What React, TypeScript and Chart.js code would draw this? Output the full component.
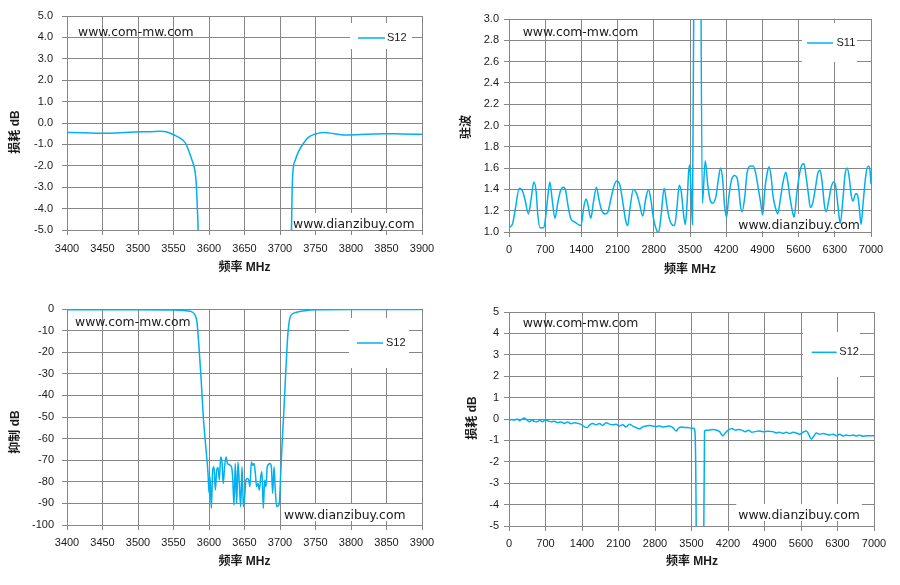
import { useEffect, useRef } from "react"
import { Chart, registerables, type ChartConfiguration, type Plugin } from "chart.js"

Chart.register(...registerables)

// S12 passband detail, 3400-3900 MHz (dB)
const passFreq = [
  3400, 3423, 3447, 3470, 3494, 3517, 3531, 3541, 3550, 3560, 3567, 3571, 3576, 3580, 3582, 3583.5, 3585,
  3590, 3650, 3710, 3716, 3717, 3718, 3721.6, 3726, 3733, 3740, 3750, 3762, 3776, 3795, 3822, 3846, 3869, 3900,
]
const passLoss = [
  -0.44, -0.45, -0.48, -0.47, -0.42, -0.41, -0.39, -0.42, -0.55, -0.72, -0.95, -1.26, -1.73, -2.2, -2.8, -3.9, -5.5,
  -20, -80, -20, -5.3, -3.3, -2.35, -1.73, -1.34, -0.95, -0.67, -0.51, -0.44, -0.5, -0.56, -0.53, -0.5, -0.51, -0.53,
]

// S11 VSWR, 0-7000 MHz
const vswrFreq = [
  0, 71, 117, 200, 265, 311, 376, 428, 480, 525, 557, 600, 674, 713, 752, 790, 836, 888, 946, 998, 1050, 1095,
  1140, 1192, 1283, 1390, 1452, 1490, 1529, 1581, 1633, 1691, 1737, 1788, 1853, 1905, 1970, 2035, 2087, 2145,
  2210, 2255, 2294, 2339, 2404, 2469, 2521, 2586, 2644, 2696, 2741, 2793, 2838, 2890, 2942, 3000, 3052, 3097,
  3149, 3201, 3246, 3292, 3331, 3370, 3409, 3441, 3473, 3493, 3519, 3548, 3583, 3650, 3706, 3740, 3795, 3844,
  3889, 3935, 4000, 4050, 4090, 4130, 4168, 4207, 4246, 4298, 4363, 4409, 4442, 4475, 4507, 4559, 4605, 4670,
  4722, 4767, 4820, 4865, 4904, 4949, 4995, 5027, 5066, 5105, 5157, 5196, 5248, 5300, 5352, 5391, 5437, 5482,
  5515, 5560, 5612, 5664, 5703, 5742, 5794, 5827, 5872, 5924, 5976, 6015, 6054, 6100, 6132, 6184, 6230, 6275,
  6314, 6360, 6405, 6457, 6496, 6535, 6574, 6620, 6652, 6704, 6737, 6769, 6808, 6847, 6899, 6945, 6975, 7000,
]
const vswrValue = [
  1.04, 1.08, 1.2, 1.41, 1.38, 1.3, 1.17, 1.31, 1.47, 1.38, 1.16, 1.04, 1.04, 1.16, 1.34, 1.47, 1.3, 1.13, 1.28,
  1.39, 1.42, 1.39, 1.25, 1.13, 1.09, 1.06, 1.25, 1.31, 1.25, 1.13, 1.28, 1.42, 1.31, 1.21, 1.17, 1.18, 1.31,
  1.44, 1.48, 1.44, 1.25, 1.11, 1.06, 1.22, 1.4, 1.36, 1.27, 1.15, 1.31, 1.4, 1.31, 1.13, 1.04, 0.99, 1.16, 1.41,
  1.25, 1.13, 1.07, 1.06, 1.22, 1.44, 1.38, 1.19, 1.07, 1.25, 1.56, 1.63, 1.41, 1.07, 4.0, 15, 4.0, 1.27, 1.67,
  1.44, 1.3, 1.27, 1.33, 1.5, 1.6, 1.5, 1.25, 1.14, 1.31, 1.48, 1.53, 1.51, 1.41, 1.25, 1.19, 1.33, 1.56, 1.62,
  1.62, 1.56, 1.41, 1.28, 1.16, 1.41, 1.56, 1.61, 1.53, 1.34, 1.22, 1.17, 1.31, 1.47, 1.56, 1.47, 1.31, 1.19,
  1.14, 1.34, 1.53, 1.63, 1.64, 1.53, 1.34, 1.23, 1.27, 1.41, 1.56, 1.58, 1.47, 1.25, 1.19, 1.3, 1.42, 1.47,
  1.44, 1.25, 1.08, 1.31, 1.53, 1.6, 1.53, 1.34, 1.29, 1.36, 1.35, 1.25, 1.07, 1.27, 1.53, 1.62, 1.6, 1.45,
]

// S12 rejection, 3400-3900 MHz (dB)
const rejectFreq = [
  3400, 3500, 3560, 3570, 3575, 3580, 3583, 3586, 3589, 3592, 3595, 3598.6, 3600, 3601.4, 3603.3, 3605.2, 3607,
  3609, 3610.8, 3612.7, 3614.6, 3616.4, 3618.3, 3620, 3622, 3624, 3626, 3631.5, 3633.3, 3635.2, 3637, 3639,
  3640.8, 3642.7, 3644.6, 3646.5, 3648.4, 3650, 3652, 3654, 3655.9, 3657.7, 3659.6, 3661.5, 3663.4, 3665.3, 3667,
  3669, 3671, 3672.8, 3674.6, 3676.5, 3678.4, 3680.3, 3682, 3686, 3687.8, 3689.7, 3691.6, 3693.4, 3695.3, 3697,
  3699, 3701, 3703, 3705, 3708, 3711, 3714, 3718, 3725, 3735, 3750, 3800, 3900,
]
const rejectValue = [
  -0.4, -0.4, -0.6, -0.9, -1.2, -2.6, -6, -18, -33, -50, -62, -76, -85, -77.7, -92.3, -74.6, -73, -83.8, -74.6,
  -73.4, -79.2, -68.5, -70.8, -80.8, -73, -68.5, -71.5, -73, -77.7, -90.8, -71.5, -90, -70.8, -80.8, -91.5, -73,
  -91.5, -87.7, -79.2, -78.5, -79.2, -82.3, -70.8, -72.3, -71.5, -76.2, -82.3, -80.8, -83.8, -77.7, -75.4, -92.3,
  -79.2, -82.3, -73, -71.5, -73, -85.4, -73, -83.8, -91.5, -91.2, -90, -76.2, -62, -50, -30, -12, -4, -2.2, -1.4,
  -0.8, -0.4, -0.25, -0.25,
]

// S12 wideband loss, 0-7000 MHz (dB)
const wideFreq = [
  0, 51, 102, 154, 198, 243, 294, 346, 390, 435, 486, 538, 589, 640, 691, 742, 806, 870, 934, 998, 1062, 1126,
  1190, 1254, 1331, 1395, 1446, 1498, 1549, 1606, 1670, 1734, 1798, 1862, 1926, 1990, 2054, 2118, 2182, 2246,
  2310, 2374, 2438, 2502, 2566, 2630, 2694, 2758, 2822, 2886, 2950, 3014, 3078, 3142, 3206, 3251, 3302, 3366,
  3430, 3494, 3540, 3565, 3592, 3660, 3733, 3750, 3782, 3846, 3910, 3974, 4038, 4102, 4147, 4211, 4275, 4339,
  4403, 4467, 4531, 4595, 4659, 4723, 4787, 4870, 4966, 5062, 5126, 5190, 5254, 5318, 5382, 5446, 5510, 5574,
  5638, 5702, 5747, 5798, 5850, 5894, 5958, 6022, 6086, 6150, 6214, 6278, 6342, 6406, 6470, 6534, 6598, 6662,
  6726, 6790, 6854, 6918, 7000,
]
const wideLoss = [
  -0.08, -0.02, -0.05, 0, -0.08, -0.02, 0.05, -0.05, -0.13, -0.05, -0.11, -0.13, -0.06, -0.13, -0.05, -0.08,
  -0.13, -0.11, -0.17, -0.14, -0.21, -0.14, -0.22, -0.17, -0.21, -0.27, -0.37, -0.4, -0.27, -0.21, -0.27, -0.21,
  -0.3, -0.17, -0.24, -0.27, -0.24, -0.33, -0.27, -0.37, -0.24, -0.33, -0.4, -0.46, -0.37, -0.33, -0.3, -0.33,
  -0.35, -0.33, -0.37, -0.35, -0.33, -0.4, -0.56, -0.43, -0.37, -0.4, -0.4, -0.43, -0.43, -0.56, -6, -60, -6,
  -0.56, -0.52, -0.51, -0.49, -0.51, -0.59, -0.78, -0.65, -0.51, -0.44, -0.52, -0.49, -0.52, -0.59, -0.52, -0.62,
  -0.59, -0.56, -0.59, -0.57, -0.59, -0.65, -0.62, -0.67, -0.62, -0.68, -0.62, -0.65, -0.71, -0.62, -0.56, -0.71,
  -0.95, -0.78, -0.65, -0.71, -0.68, -0.71, -0.75, -0.71, -0.78, -0.71, -0.79, -0.75, -0.78, -0.75, -0.79, -0.76,
  -0.81, -0.78, -0.78, -0.78,
]

// axis ticks
const narrowTicks = [3400, 3450, 3500, 3550, 3600, 3650, 3700, 3750, 3800, 3850, 3900]
const wideTicks = [0, 700, 1400, 2100, 2800, 3500, 4200, 4900, 5600, 6300, 7000]
const lossTicks = [-5, -4, -3, -2, -1, 0, 1, 2, 3, 4, 5]
const vswrTicks = [1.0, 1.2, 1.4, 1.6, 1.8, 2.0, 2.2, 2.4, 2.6, 2.8, 3.0]
const rejectTicks = [-100, -90, -80, -70, -60, -50, -40, -30, -20, -10, 0]

const LINE = "#00b0f0"
const GRID = "#868686"
const TEXT = "#1a1a1a"
const FONT = "'Liberation Sans', 'Noto Sans CJK SC', sans-serif"
const MARK_FONT = "12.4px 'DejaVu Sans', sans-serif"
const TOP_MARK = "www.com-mw.com"
const BOTTOM_MARK = "www.dianzibuy.com"

interface Frame {
  top: number
  right: number
  yWidth: number
  xHeight: number
  yPad: number
  xPad: number
}

interface Legend {
  x: number
  y: number
  w: number
  h: number
  lineX0: number
  lineX1: number
  lineY: number
  textX: number
}

interface PanelProps {
  freqs: number[]
  values: number[]
  xTicks: number[]
  yTicks: number[]
  decimals: number
  series: string
  yTitle: string
  left: number
  top: number
  width: number
  height: number
  frame: Frame
  legend: Legend
  marks: { topX: number; topY: number; bottomX: number; bottomY: number }
  titles: { xX: number; xY: number; yX: number; yY: number }
}

function Panel({
  freqs,
  values,
  xTicks,
  yTicks,
  decimals,
  series,
  yTitle,
  left,
  top,
  width,
  height,
  frame,
  legend,
  marks,
  titles,
}: PanelProps) {
  const canvasRef = useRef<HTMLCanvasElement>(null)

  useEffect(() => {
    if (!canvasRef.current) return

    // legend box, watermarks and axis titles sit on fixed spots like the Excel sheet
    const overlay: Plugin<"line"> = {
      id: "overlay",
      beforeDatasetsDraw(chart) {
        const ctx = chart.ctx
        ctx.save()
        ctx.fillStyle = "#ffffff"
        ctx.fillRect(legend.x, legend.y, legend.w, legend.h)
        ctx.font = MARK_FONT
        const w = ctx.measureText(BOTTOM_MARK).width
        ctx.fillRect(marks.bottomX - 2, marks.bottomY - 12, w + 4, 17)
        ctx.restore()
      },
      afterDatasetsDraw(chart) {
        const ctx = chart.ctx
        ctx.save()
        ctx.strokeStyle = LINE
        ctx.lineWidth = 1.5
        ctx.beginPath()
        ctx.moveTo(legend.lineX0, legend.lineY)
        ctx.lineTo(legend.lineX1, legend.lineY)
        ctx.stroke()

        ctx.fillStyle = TEXT
        ctx.textBaseline = "middle"
        ctx.textAlign = "left"
        ctx.font = `11px ${FONT}`
        ctx.fillText(series, legend.textX, legend.lineY)

        ctx.font = MARK_FONT
        ctx.fillText(TOP_MARK, marks.topX, marks.topY)
        ctx.fillText(BOTTOM_MARK, marks.bottomX, marks.bottomY)

        ctx.font = `bold 12px ${FONT}`
        ctx.textAlign = "center"
        ctx.fillText("频率 MHz", titles.xX, titles.xY)
        ctx.translate(titles.yX, titles.yY)
        ctx.rotate(-Math.PI / 2)
        ctx.fillText(yTitle, 0, 0)
        ctx.restore()
      },
    }

    const tickFont = { family: FONT, size: 11 }

    const config: ChartConfiguration<"line"> = {
      type: "line",
      data: {
        datasets: [
          {
            label: series,
            data: freqs.map((f, i) => ({ x: f, y: values[i] })),
            borderColor: LINE,
            borderWidth: 1.5,
            pointRadius: 0,
            fill: false,
            cubicInterpolationMode: "monotone",
          },
        ],
      },
      options: {
        responsive: false,
        animation: false,
        events: [],
        layout: { padding: { top: frame.top, right: frame.right, left: 0, bottom: 0 } },
        plugins: {
          legend: { display: false },
          tooltip: { enabled: false },
        },
        scales: {
          x: {
            type: "linear",
            min: xTicks[0],
            max: xTicks[xTicks.length - 1],
            afterBuildTicks: (scale) => {
              scale.ticks = xTicks.map((value) => ({ value }))
            },
            afterFit: (scale) => {
              scale.height = frame.xHeight
            },
            grid: { color: GRID, tickColor: GRID, tickLength: 5, lineWidth: 1 },
            border: { color: GRID },
            ticks: {
              font: tickFont,
              color: TEXT,
              padding: frame.xPad,
              maxRotation: 0,
              autoSkip: false,
              callback: (v) => String(v),
            },
          },
          y: {
            type: "linear",
            min: yTicks[0],
            max: yTicks[yTicks.length - 1],
            afterBuildTicks: (scale) => {
              scale.ticks = yTicks.map((value) => ({ value }))
            },
            afterFit: (scale) => {
              scale.width = frame.yWidth
            },
            grid: { color: GRID, tickColor: GRID, tickLength: 5, lineWidth: 1 },
            border: { color: GRID },
            ticks: {
              font: tickFont,
              color: TEXT,
              padding: frame.yPad,
              autoSkip: false,
              callback: (v) => Number(v).toFixed(decimals),
            },
          },
        },
      },
      plugins: [overlay],
    }

    const chart = new Chart(canvasRef.current, config)
    return () => chart.destroy()
  }, [freqs, values, xTicks, yTicks, decimals, series, yTitle, frame, legend, marks, titles])

  return (
    <div style={{ position: "absolute", left, top, width, height }}>
      <canvas ref={canvasRef} width={width} height={height} style={{ width, height }} />
    </div>
  )
}

export default function App() {
  return (
    <div style={{ position: "absolute", left: 0, top: 0, width: 900, height: 585, background: "#fff" }}>
      <Panel
        freqs={passFreq}
        values={passLoss}
        xTicks={narrowTicks}
        yTicks={lossTicks}
        decimals={1}
        series="S12"
        yTitle="损耗 dB"
        left={0}
        top={0}
        width={450}
        height={292}
        frame={{ top: 16, right: 28, yWidth: 67, xHeight: 62, yPad: 9, xPad: 7 }}
        legend={{ x: 350, y: 23, w: 62, h: 26, lineX0: 358, lineX1: 385, lineY: 38, textX: 387 }}
        marks={{ topX: 78, topY: 33, bottomX: 293, bottomY: 225 }}
        titles={{ xX: 244.5, xY: 268, yX: 15.5, yY: 132 }}
      />
      <Panel
        freqs={vswrFreq}
        values={vswrValue}
        xTicks={wideTicks}
        yTicks={vswrTicks}
        decimals={1}
        series="S11"
        yTitle="驻波"
        left={450}
        top={0}
        width={450}
        height={292}
        frame={{ top: 19, right: 29, yWidth: 59, xHeight: 60, yPad: 5, xPad: 6 }}
        legend={{ x: 352, y: 23, w: 55, h: 39, lineX0: 357, lineX1: 383, lineY: 43, textX: 386.5 }}
        marks={{ topX: 72.7, topY: 33, bottomX: 288.3, bottomY: 226 }}
        titles={{ xX: 240, xY: 270, yX: 16.5, yY: 127 }}
      />
      <Panel
        freqs={rejectFreq}
        values={rejectValue}
        xTicks={narrowTicks}
        yTicks={rejectTicks}
        decimals={0}
        series="S12"
        yTitle="抑制 dB"
        left={0}
        top={292}
        width={450}
        height={293}
        frame={{ top: 17, right: 28, yWidth: 67, xHeight: 60, yPad: 8, xPad: 6 }}
        legend={{ x: 349, y: 26, w: 60, h: 50, lineX0: 357, lineX1: 383, lineY: 51, textX: 386 }}
        marks={{ topX: 75, topY: 30.3, bottomX: 284, bottomY: 224 }}
        titles={{ xX: 244.5, xY: 269.7, yX: 15.5, yY: 140 }}
      />
      <Panel
        freqs={wideFreq}
        values={wideLoss}
        xTicks={wideTicks}
        yTicks={lossTicks}
        decimals={0}
        series="S12"
        yTitle="损耗 dB"
        left={450}
        top={292}
        width={450}
        height={293}
        frame={{ top: 20, right: 26, yWidth: 59, xHeight: 59, yPad: 5, xPad: 6 }}
        legend={{ x: 353, y: 40, w: 57, h: 45, lineX0: 361.7, lineX1: 386.7, lineY: 60.3, textX: 389.3 }}
        marks={{ topX: 72.7, topY: 31.3, bottomX: 288.3, bottomY: 224 }}
        titles={{ xX: 242, xY: 269.7, yX: 23, yY: 126 }}
      />
    </div>
  )
}
